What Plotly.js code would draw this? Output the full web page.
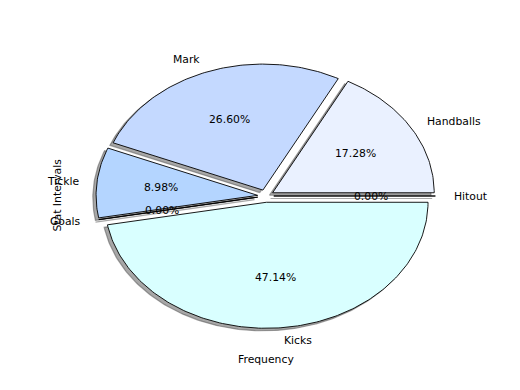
<!DOCTYPE html>
<html>
<head>
<meta charset="utf-8">
<script src="https://cdn.plot.ly/plotly-3.0.1.min.js"></script>
<style>html,body{margin:0;padding:0;background:#fff;}#chart{width:520px;height:390px;}</style>
</head>
<body>
<div id="chart"></div>
<script>
// Data
const categories = ["Handballs", "Mark", "Tickle", "Goals", "Kicks", "Hitout"];
const values = [17.28, 26.60, 8.98, 0.00, 47.14, 0.00];
const colors = ["#eaf1ff", "#c4d9ff", "#b4d5ff", "#c8e6ff", "#d9ffff", "#e0f0ff"];
const explode = [0.05, 0.05, 0.05, 0.05, 0.05, 0.05];

const total = values.reduce((a, b) => a + b, 0);
const traces = [];
const shadows = [];
const annotations = [];
const font = {family: "DejaVu Sans, sans-serif", size: 10.8, color: "#000"};
let start = 0;
const deg = Math.PI / 180;
for (let i = 0; i < categories.length; i++) {
  const span = values[i] / total * 360;
  const t1 = start, t2 = start + span;
  const tm = (t1 + t2) / 2 * deg;
  const cx = explode[i] * Math.cos(tm), cy = explode[i] * Math.sin(tm);
  const xs = [cx], ys = [cy];
  const n = Math.max(2, Math.ceil(span / 1));
  for (let k = 0; k <= n; k++) {
    const t = (t1 + (t2 - t1) * k / n) * deg;
    xs.push(cx + Math.cos(t)); ys.push(cy + Math.sin(t));
  }
  xs.push(cx); ys.push(cy);
  shadows.push({type: "scatter", mode: "lines", x: xs.map(v => v - 0.02), y: ys.map(v => v - 0.02),
    fill: "toself", fillcolor: "rgba(80,80,80,0.5)", line: {color: "rgba(80,80,80,0.5)", width: 1.2},
    hoverinfo: "skip"});
  traces.push({type: "scatter", mode: "lines", x: xs, y: ys, fill: "toself", fillcolor: colors[i],
    line: {color: "#000", width: 0.9}, hoverinfo: "skip"});
  const lx = cx + 1.1 * Math.cos(tm), ly = cy + 1.1 * Math.sin(tm);
  annotations.push({x: lx, y: ly, xref: "x", yref: "y", text: categories[i], showarrow: false,
    xanchor: lx > 0 ? "left" : "right", yanchor: "middle", font: font});
  const px = cx + 0.6 * Math.cos(tm), py = cy + 0.6 * Math.sin(tm);
  annotations.push({x: px, y: py, xref: "x", yref: "y", text: values[i].toFixed(2) + "%", showarrow: false,
    xanchor: "center", yanchor: "middle", font: font});
  start = t2;
}
annotations.push({x: 0.512, y: 1 - 359.5 / 390, xref: "paper", yref: "paper", text: "Frequency", showarrow: false,
  xanchor: "center", yanchor: "middle", font: font});
annotations.push({x: 56.5 / 520, y: 1 - 195 / 390, xref: "paper", yref: "paper", text: "Stat Intervals", showarrow: false,
  textangle: -90, xanchor: "center", yanchor: "middle", font: font});

const layout = {
  width: 520, height: 390,
  margin: {l: 0, r: 0, t: 0, b: 0},
  paper_bgcolor: "#fff", plot_bgcolor: "#fff",
  showlegend: false, hovermode: false,
  xaxis: {range: [-265.7 / 161.6, (520 - 265.7) / 161.6], visible: false, fixedrange: true},
  yaxis: {range: [-(390 - 196) / 126, 196 / 126], visible: false, fixedrange: true},
  annotations: annotations
};
Plotly.newPlot("chart", shadows.concat(traces), layout, {staticPlot: true, displayModeBar: false});
</script>
</body>
</html>
